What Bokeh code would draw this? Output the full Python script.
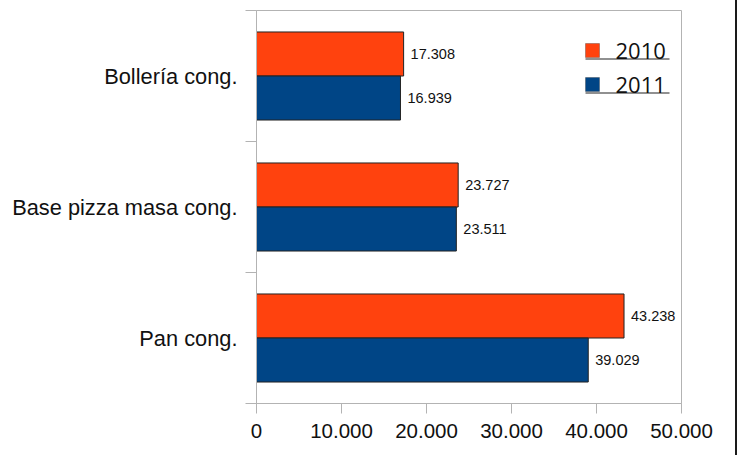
from bokeh.plotting import figure
from bokeh.models import (Range1d, FixedTicker, LinearAxis, ColumnDataSource,
                          LabelSet, Label, BoxAnnotation)
from bokeh.core.properties import value
from bokeh.embed import file_html
from bokeh.resources import INLINE

# Frozen bakery products, 2010 vs 2011
categories = ["Pan cong.", "Base pizza masa cong.", "Bollería cong."]
values_2010 = [43238, 23727, 17308]
values_2011 = [39029, 23511, 16939]
series_names = ["2010", "2011"]
x_ticks = [0, 10000, 20000, 30000, 40000, 50000]
x_tick_labels = ["0", "10.000", "20.000", "30.000", "40.000", "50.000"]

ORANGE = "#ff420e"
BLUE = "#004586"
GRID = "#b3b3b3"
FONT = "Liberation Sans"

X_MAX = 50000
N = len(categories)

p = figure(width=737, height=455, output_backend="svg", toolbar_location=None,
           x_range=Range1d(0, X_MAX), y_range=Range1d(0, N),
           x_axis_type=None, y_axis_type=None)
p.min_border_left = 256
p.min_border_right = 56
p.min_border_top = 10
p.min_border_bottom = 52
p.outline_line_color = GRID
p.outline_line_width = 1
p.background_fill_color = "white"
p.border_fill_color = "white"
p.styles = {"border-right": "2px solid #1a1a1a"}

# bars: two per category, 2010 above 2011
half = 0.168
centers = [i + 0.5 for i in range(N)]
src = ColumnDataSource(dict(
    cat=categories,
    y2010=[c + half for c in centers],
    y2011=[c - half for c in centers],
    v2010=values_2010,
    v2011=values_2011,
    t2010=[f"{v:,}".replace(",", ".") for v in values_2010],
    t2011=[f"{v:,}".replace(",", ".") for v in values_2011],
))

p.hbar(y="y2010", left=0, right="v2010", height=2 * half, source=src,
       fill_color=ORANGE, line_color="#222222", line_width=1)
p.hbar(y="y2011", left=0, right="v2011", height=2 * half, source=src,
       fill_color=BLUE, line_color="#222222", line_width=1)

for ycol, tcol, vcol in (("y2010", "t2010", "v2010"), ("y2011", "t2011", "v2011")):
    p.add_layout(LabelSet(x=vcol, y=ycol, text=tcol, source=src,
                          x_offset=7, text_baseline="middle", text_align="left",
                          text_font=value(FONT), text_font_size=value("14.5px"),
                          text_color="#111111"))

# x axis
xaxis = LinearAxis(ticker=FixedTicker(ticks=x_ticks, minor_ticks=[]))
xaxis.major_label_overrides = {t: s for t, s in zip(x_ticks, x_tick_labels)}
xaxis.axis_line_color = GRID
xaxis.major_tick_line_color = GRID
xaxis.major_tick_out = 10
xaxis.major_tick_in = 0
xaxis.major_label_standoff = 10
xaxis.major_label_text_font = FONT
xaxis.major_label_text_font_size = "20.5px"
xaxis.major_label_text_color = "#111111"
p.add_layout(xaxis, "below")

# y axis: labels centred in each band, ticks on band boundaries
yaxis = LinearAxis(ticker=FixedTicker(ticks=centers,
                                      minor_ticks=[float(i) for i in range(N + 1)]))
yaxis.major_label_overrides = {c: s for c, s in zip(centers, categories)}
yaxis.axis_line_color = GRID
yaxis.major_tick_line_color = None
yaxis.major_tick_out = 0
yaxis.major_tick_in = 0
yaxis.minor_tick_line_color = GRID
yaxis.minor_tick_out = 11
yaxis.minor_tick_in = 0
yaxis.major_label_standoff = 8
yaxis.major_label_text_font = FONT
yaxis.major_label_text_font_size = "21.8px"
yaxis.major_label_text_color = "#111111"
p.add_layout(yaxis, "left")

p.xgrid.ticker = FixedTicker(ticks=x_ticks)
p.xgrid.grid_line_color = GRID
p.ygrid.grid_line_color = None

# legend, placed in the upper right of the plot area
FRAME_W, FRAME_H = 425.0, 393.0
def dx(px):
    return px * X_MAX / FRAME_W
def dy(py):
    return N - py * N / FRAME_H

p.add_layout(BoxAnnotation(left=dx(325), right=dx(418), top=dy(28), bottom=dy(88),
                           fill_color="white", fill_alpha=1.0, line_color=None,
                           level="annotation"))
for i, (name, color) in enumerate(zip(series_names, [ORANGE, BLUE])):
    top = 33 + 34 * i
    p.add_layout(BoxAnnotation(left=dx(329), right=dx(343), top=dy(top), bottom=dy(top + 14),
                               fill_color=color, fill_alpha=1.0,
                               line_color="#222222", line_width=1, level="annotation"))
    p.add_layout(BoxAnnotation(left=dx(329), right=dx(413), top=dy(top + 15), bottom=dy(top + 16),
                               fill_color="#222222", fill_alpha=1.0,
                               line_color=None, level="annotation"))
    p.add_layout(Label(x=dx(359), y=dy(top + 7), text=name, text_baseline="middle",
                       text_align="left", text_font="Open Sans", text_font_size="22px",
                       text_color="#111111"))

open("out.html", "w").write(file_html(p, INLINE))
